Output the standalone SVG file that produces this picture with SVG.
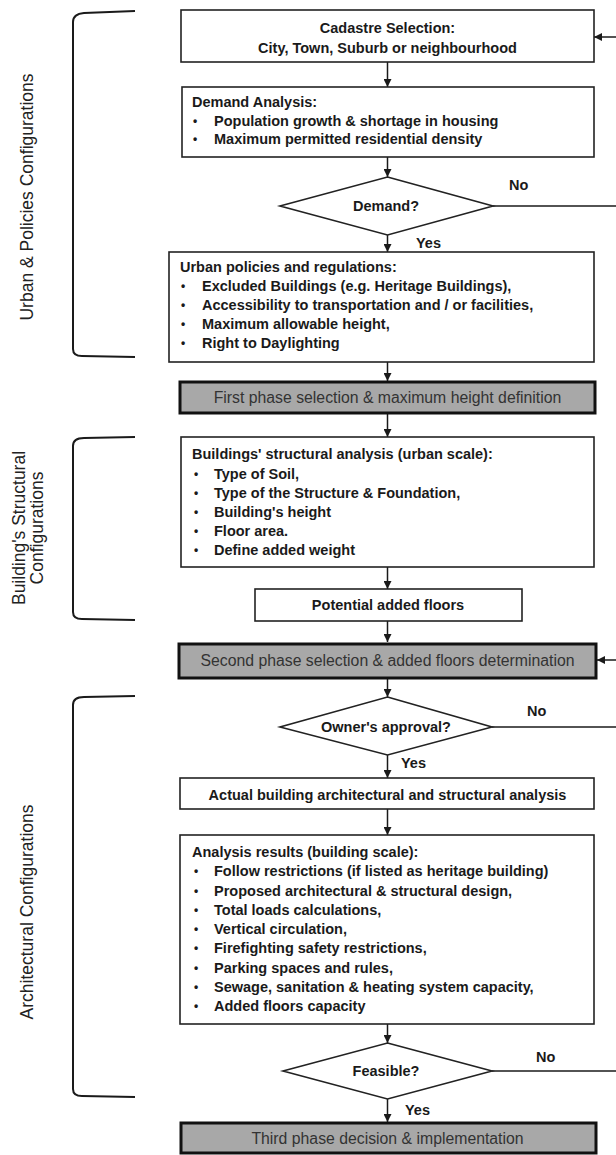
<svg xmlns="http://www.w3.org/2000/svg" width="616" height="1155" viewBox="0 0 616 1155">
<defs>
<style>
.box{fill:#fff;stroke:#222;stroke-width:1.6}
.gray{fill:#a8a8a8;stroke:#111;stroke-width:3}
.dia{fill:#fff;stroke:#222;stroke-width:1.6}
.t{font-family:"Liberation Sans",Arial,sans-serif;font-size:14.5px;font-weight:bold;fill:#1a1a1a}
.b{font-family:"Liberation Sans",Arial,sans-serif;font-size:12px;font-weight:bold;fill:#1a1a1a}
.c{text-anchor:middle}
.g{font-family:"Liberation Sans",Arial,sans-serif;font-size:15.8px;fill:#333;text-anchor:middle}
.lab{font-family:"Liberation Sans",Arial,sans-serif;font-size:17.5px;fill:#222;text-anchor:middle}
.ln{fill:none;stroke:#1a1a1a;stroke-width:1.5}
.br{fill:none;stroke:#1a1a1a;stroke-width:2}
</style>
<marker id="ah" viewBox="0 0 8 8" markerWidth="8" markerHeight="8" refX="8" refY="4" orient="auto" markerUnits="userSpaceOnUse">
<path d="M0,0 L8,4 L0,8 z" fill="#1a1a1a"/>
</marker>
</defs>
<rect width="616" height="1155" fill="#fff"/>

<g id="brackets">
<path class="br" d="M135,11 L84,13 Q73,14 73,22 L73,349 Q73,356 82,356 L135,357"/>
<path class="br" d="M135,437 L84,438 Q73,438 73,446 L73,612 Q73,619 82,619 L135,620"/>
<path class="br" d="M135,696 L84,697 Q73,697 73,705 L73,1089 Q73,1096 82,1096 L135,1097"/>
</g>
<g id="labels">
<text class="lab" transform="translate(33,197) rotate(-90)">Urban &amp; Policies Configurations</text>
<text class="lab" transform="translate(25,528) rotate(-90)">Building's Structural</text>
<text class="lab" transform="translate(43,528) rotate(-90)">Configurations</text>
<text class="lab" transform="translate(33,912) rotate(-90)">Architectural Configurations</text>
</g>

<g id="connectors">
<line class="ln" x1="387.5" y1="62" x2="387.5" y2="87" marker-end="url(#ah)"/>
<line class="ln" x1="387.5" y1="157" x2="387.5" y2="177" marker-end="url(#ah)"/>
<line class="ln" x1="387.5" y1="235" x2="387.5" y2="252" marker-end="url(#ah)"/>
<line class="ln" x1="387.5" y1="362" x2="387.5" y2="381" marker-end="url(#ah)"/>
<line class="ln" x1="387.5" y1="414" x2="387.5" y2="437" marker-end="url(#ah)"/>
<line class="ln" x1="387.5" y1="567" x2="387.5" y2="589" marker-end="url(#ah)"/>
<line class="ln" x1="387.5" y1="621" x2="387.5" y2="642" marker-end="url(#ah)"/>
<line class="ln" x1="387.5" y1="679" x2="387.5" y2="697" marker-end="url(#ah)"/>
<line class="ln" x1="387.5" y1="755" x2="387.5" y2="778" marker-end="url(#ah)"/>
<line class="ln" x1="387.5" y1="809" x2="387.5" y2="835" marker-end="url(#ah)"/>
<line class="ln" x1="387.5" y1="1024" x2="387.5" y2="1043" marker-end="url(#ah)"/>
<line class="ln" x1="387.5" y1="1099" x2="387.5" y2="1122" marker-end="url(#ah)"/>
<line class="ln" x1="616" y1="37" x2="594" y2="37" marker-end="url(#ah)"/>
<line class="ln" x1="616" y1="660" x2="597" y2="660" marker-end="url(#ah)"/>
<line class="ln" x1="493" y1="206" x2="616" y2="206"/>
<line class="ln" x1="492" y1="727" x2="616" y2="727"/>
<line class="ln" x1="492" y1="1071" x2="616" y2="1071"/>
<text class="t" x="509" y="190">No</text>
<text class="t" x="416" y="248">Yes</text>
<text class="t" x="527" y="716">No</text>
<text class="t" x="401" y="768">Yes</text>
<text class="t" x="536" y="1062">No</text>
<text class="t" x="405" y="1115">Yes</text>
</g>

<g id="cadastre">
<rect class="box" x="181" y="10" width="413" height="52"/>
<text class="t c" x="387.5" y="33">Cadastre Selection:</text>
<text class="t c" x="387.5" y="53">City, Town, Suburb or neighbourhood</text>
</g>

<g id="demand-analysis">
<rect class="box" x="182" y="87" width="412" height="70"/>
<text class="t" x="192" y="107">Demand Analysis:</text>
<text class="b" x="193" y="124.5">•</text><text class="t" x="214" y="125.5">Population growth &amp; shortage in housing</text>
<text class="b" x="193" y="143">•</text><text class="t" x="214" y="144">Maximum permitted residential density</text>
</g>

<g id="demand-decision">
<polygon class="dia" points="387.5,177 493,206 387.5,235 280,206"/>
<text class="t c" x="386" y="211">Demand?</text>
</g>

<g id="urban-policies">
<rect class="box" x="169" y="252" width="425" height="110"/>
<text class="t" x="180" y="272">Urban policies and regulations:</text>
<text class="b" x="181" y="290">•</text><text class="t" x="202" y="291">Excluded Buildings (e.g. Heritage Buildings),</text>
<text class="b" x="181" y="309">•</text><text class="t" x="202" y="310">Accessibility to transportation and / or facilities,</text>
<text class="b" x="181" y="328">•</text><text class="t" x="202" y="329">Maximum allowable height,</text>
<text class="b" x="181" y="347">•</text><text class="t" x="202" y="348">Right to Daylighting</text>
</g>

<g id="first-phase">
<rect class="gray" x="180" y="382" width="415" height="31"/>
<text class="g" x="387.5" y="403">First phase selection &amp; maximum height definition</text>
</g>

<g id="structural-analysis">
<rect class="box" x="181" y="437" width="413" height="130"/>
<text class="t" x="192" y="459">Buildings' structural analysis (urban scale):</text>
<text class="b" x="194" y="478">•</text><text class="t" x="214" y="479">Type of Soil,</text>
<text class="b" x="194" y="497">•</text><text class="t" x="214" y="498">Type of the Structure &amp; Foundation,</text>
<text class="b" x="194" y="516">•</text><text class="t" x="214" y="517">Building's height</text>
<text class="b" x="194" y="535">•</text><text class="t" x="214" y="536">Floor area.</text>
<text class="b" x="194" y="554">•</text><text class="t" x="214" y="555">Define added weight</text>
</g>

<g id="potential-floors">
<rect class="box" x="255" y="589" width="267" height="32"/>
<text class="t c" x="388" y="610">Potential added floors</text>
</g>

<g id="second-phase">
<rect class="gray" x="179" y="644" width="417" height="34"/>
<text class="g" x="387.5" y="666">Second phase selection &amp; added floors determination</text>
</g>

<g id="owner-decision">
<polygon class="dia" points="387.5,697 492,727 387.5,755 280,727"/>
<text class="t c" x="386" y="732">Owner's approval?</text>
</g>

<g id="actual-analysis">
<rect class="box" x="180" y="778" width="414" height="31"/>
<text class="t c" x="387.5" y="800">Actual building architectural and structural analysis</text>
</g>

<g id="analysis-results">
<rect class="box" x="180" y="835" width="414" height="189"/>
<text class="t" x="192" y="857">Analysis results (building scale):</text>
<text class="b" x="194" y="875">•</text><text class="t" x="214" y="876">Follow restrictions (if listed as heritage building)</text>
<text class="b" x="194" y="894.5">•</text><text class="t" x="214" y="895.5">Proposed architectural &amp; structural design,</text>
<text class="b" x="194" y="914">•</text><text class="t" x="214" y="915">Total loads calculations,</text>
<text class="b" x="194" y="933">•</text><text class="t" x="214" y="934">Vertical circulation,</text>
<text class="b" x="194" y="952">•</text><text class="t" x="214" y="953">Firefighting safety restrictions,</text>
<text class="b" x="194" y="971.5">•</text><text class="t" x="214" y="972.5">Parking spaces and rules,</text>
<text class="b" x="194" y="991">•</text><text class="t" x="214" y="992">Sewage, sanitation &amp; heating system capacity,</text>
<text class="b" x="194" y="1010">•</text><text class="t" x="214" y="1011">Added floors capacity</text>
</g>

<g id="feasible-decision">
<polygon class="dia" points="387.5,1043 492,1071 387.5,1099 283,1071"/>
<text class="t c" x="386" y="1076">Feasible?</text>
</g>

<g id="third-phase">
<rect class="gray" x="181" y="1123" width="415" height="30"/>
<text class="g" x="387.5" y="1144">Third phase decision &amp; implementation</text>
</g>
</svg>
